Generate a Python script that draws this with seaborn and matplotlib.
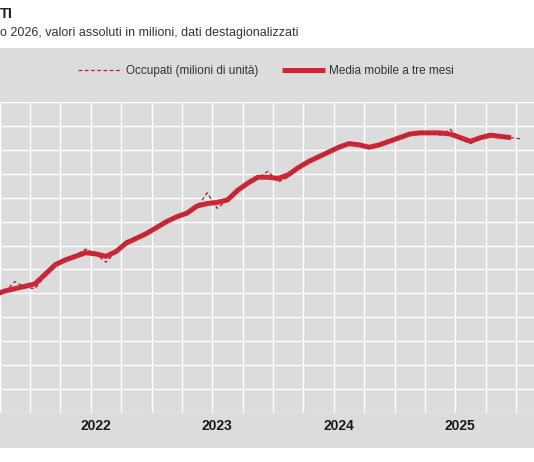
import numpy as np
import pandas as pd
import matplotlib
matplotlib.use('Agg')
import matplotlib.pyplot as plt
from matplotlib.patches import Rectangle
import seaborn as sns

# Occupati, dati destagionalizzati (milioni) - set 2021 / gen 2026
mesi = pd.date_range('2021-09-01', '2026-01-01', freq='MS')

occupati = [22.98, 23.01, 23.10, 23.05,
            23.04, 23.15, 23.25, 23.29, 23.32, 23.37, 23.33, 23.26, 23.35, 23.44, 23.46, 23.50,
            23.55, 23.60, 23.64, 23.67, 23.72, 23.84, 23.71, 23.78, 23.86, 23.92, 23.96, 24.02,
            23.93, 23.97, 24.05, 24.10, 24.14, 24.18, 24.22, 24.26, 24.25, 24.21, 24.24, 24.27,
            24.30, 24.33, 24.34, 24.34, 24.32, 24.37, 24.29, 24.25, 24.30, 24.34, 24.31, 24.30,
            24.29]

# media mobile centrata: si ferma un mese prima
media_mobile = [22.99, 23.02, 23.04, 23.06,
                23.08, 23.16, 23.24, 23.28, 23.31, 23.34, 23.33, 23.31, 23.35, 23.42, 23.46, 23.50,
                23.55, 23.60, 23.64, 23.67, 23.73, 23.75, 23.76, 23.78, 23.86, 23.92, 23.97, 23.97,
                23.96, 23.99, 24.05, 24.10, 24.14, 24.18, 24.22, 24.25, 24.24, 24.22, 24.24, 24.27,
                24.30, 24.33, 24.34, 24.34, 24.34, 24.33, 24.30, 24.27, 24.30, 24.32, 24.31, 24.30]

anni = ['2022', '2023', '2024', '2025']
anni_pos = [18, 30, 42, 54]   # luglio di ogni anno (mesi da gen 2021)

titolo = 'TI'
sottotitolo = 'o 2026, valori assoluti in milioni, dati destagionalizzati'
lab_occ = 'Occupati (milioni di unità)'
lab_mm = 'Media mobile a tre mesi'

df = pd.DataFrame({'mese': mesi, 'occupati': occupati})
df['pos'] = (df.mese.dt.year - 2021) * 12 + df.mese.dt.month - 1
df['media'] = media_mobile + [np.nan]

GRIGIO = '#dcdcdc'
ROSSO = '#cf2636'

sns.set_style('white', {'axes.facecolor': GRIGIO})
plt.rcParams['font.family'] = ['Liberation Sans', 'DejaVu Sans']

fig = plt.figure(figsize=(5.34, 4.62), dpi=100)
fig.patches.append(Rectangle((0, 13.7 / 462), 1, 400 / 462, transform=fig.transFigure,
                             facecolor=GRIGIO, edgecolor='none', zorder=-5))

# asse allargato oltre i bordi (immagine ritagliata)
ax = fig.add_axes([-91.5 / 534, 48.7 / 462, 637.9 / 534, 311.6 / 462])
ax.set_zorder(2)
ax.set_facecolor(GRIGIO)

sns.lineplot(data=df, x='pos', y='media', ax=ax, color=ROSSO, lw=3.6,
             solid_capstyle='butt', label=lab_mm, zorder=3)
sns.lineplot(data=df, x='pos', y='occupati', ax=ax, color='#a3283a', lw=0.9,
             dashes=(3, 2), label=lab_occ, zorder=4)

ax.set_xlim(-0.5, 62.5)
ax.set_ylim(22.0, 24.6)
ax.set_yticks(np.arange(22.0, 24.61, 0.2))
ax.set_xticks(np.arange(2.5, 63, 3), minor=True)
ax.set_xticks(anni_pos, labels=anni)
ax.grid(False)
ax.grid(True, which='minor', axis='x', color='white', lw=1.0)
ax.grid(True, which='major', axis='y', color='white', lw=1.0)
ax.tick_params(which='both', length=0, labelleft=False)
ax.tick_params(axis='x', pad=4)
for t in ax.get_xticklabels():
    t.set_fontweight('bold')
    t.set_fontsize(10)
    t.set_color('#1a1a1a')
ax.set_xlabel('')
ax.set_ylabel('')
sns.despine(ax=ax, left=True, bottom=True)

h, l = ax.get_legend_handles_labels()
ax.get_legend().remove()
fig.legend(h[::-1], l[::-1], loc='center', bbox_to_anchor=(266 / 534, 1 - 71 / 462), ncol=2,
           frameon=False, prop={'size': 8.5}, handlelength=3.7,
           handletextpad=0.3, columnspacing=2.0, labelcolor='#333333')

fig.text(0, 1 - 17.7 / 462, titolo, fontsize=10.5, fontweight='bold', color='#222222',
         va='baseline', ha='left')
fig.text(0, 1 - 36.4 / 462, sottotitolo, fontsize=9, color='#333333', va='baseline', ha='left')

fig.savefig('out.png', dpi=100, facecolor='white')
